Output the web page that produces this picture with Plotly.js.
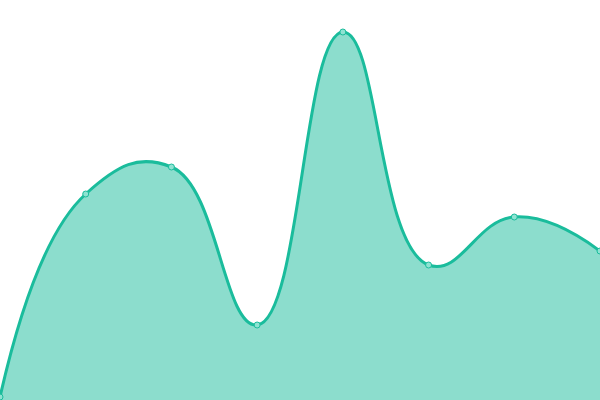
<!DOCTYPE html>
<html>
<head>
<meta charset="utf-8">
<script src="https://cdn.plot.ly/plotly-3.0.1.min.js"></script>
<style>
  html, body { margin: 0; padding: 0; background: #fff; }
  #plot { width: 600px; height: 400px; }
</style>
</head>
<body>
<div id="plot"></div>
<script>
var xValues = [0, 1, 2, 3, 4, 5, 6, 7];
var yValues = [3, 206, 233, 75, 368, 135, 183, 149];

var trace = {x: xValues,
             y: yValues,
             type: "scatter",
             mode: "lines+markers",
             fill: "tozeroy",
             fillcolor: "rgba(26, 188, 156, 0.5)",
             line: {color: "#1abc9c", width: 3, shape: "spline", smoothing: 1.3},
             marker: {size: 6, color: "#8ee3d2", line: {color: "#1abc9c", width: 1}},
             cliponaxis: false,
             hoverinfo: "x+y"};

var layout = {
    margin: {l: 0, r: 0, t: 0, b: 0},
    showlegend: false,
    paper_bgcolor: "#ffffff",
    plot_bgcolor: "#ffffff",
    xaxis: {range: [0, 7], visible: false, fixedrange: true},
    yaxis: {range: [0, 400], visible: false, fixedrange: true}
};

Plotly.newPlot("plot", [trace], layout, {displayModeBar: false, staticPlot: true});
</script>
</body>
</html>
